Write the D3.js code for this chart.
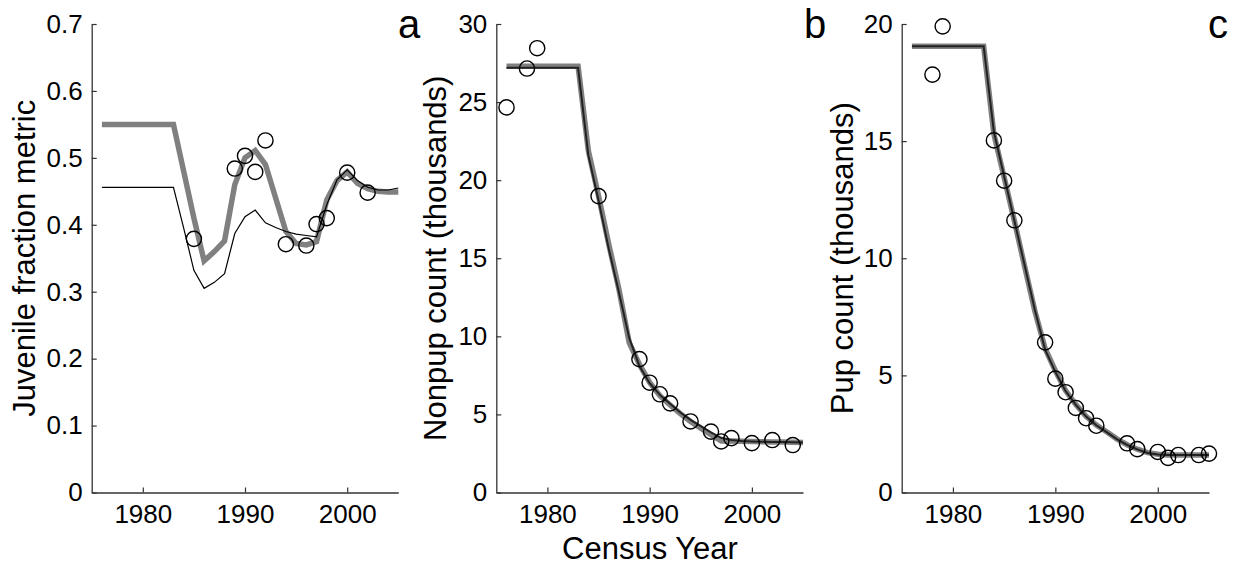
<!DOCTYPE html>
<html>
<head>
<meta charset="utf-8">
<script src="https://cdn.jsdelivr.net/npm/d3@7"></script>
<style>
  html, body { margin: 0; padding: 0; background: #fff; }
  svg { display: block; }
  text { font-family: "Liberation Sans", Arial, Helvetica, sans-serif; fill: #000; }
</style>
</head>
<body>
<svg id="chart" width="1238" height="569"></svg>
<script>
// ---------- data ----------
const modelYears = [1976,1983,1984,1985,1986,1987,1988,1989,1990,1991,1992,1993,1994,1995,1996,1997,1998,1999,2000,2001,2002,2003,2004,2005];

// panel a: juvenile fraction metric
const aGrey = [0.55,0.55,0.48,0.41,0.346,0.36,0.376,0.46,0.50,0.511,0.49,0.44,0.39,0.372,0.370,0.375,0.437,0.466,0.479,0.462,0.454,0.45,0.449,0.449];
const aThin = [0.456,0.456,0.395,0.332,0.305,0.314,0.327,0.387,0.412,0.422,0.403,0.396,0.390,0.386,0.384,0.382,0.430,0.467,0.482,0.466,0.456,0.452,0.452,0.455];
const aObsYears = [1985,1989,1990,1991,1992,1994,1996,1997,1998,2000,2002];
const aObs = [0.379,0.484,0.503,0.479,0.526,0.371,0.369,0.401,0.410,0.478,0.448];

// panel b: nonpup count (thousands)
const bGrey  = [27.3,27.3,21.9,19.0,15.9,13.0,9.6,8.2,7.05,6.2,5.6,5.05,4.55,4.12,3.7,3.3,3.3,3.28,3.26,3.25,3.24,3.23,3.22,3.2];
const bBlack = [27.2,27.2,21.6,18.7,15.6,12.8,9.9,8.1,7.0,6.25,5.68,5.12,4.65,4.25,3.85,3.5,3.36,3.3,3.27,3.25,3.24,3.23,3.22,3.2];
const bObsYears = [1976,1978,1979,1985,1989,1990,1991,1992,1994,1996,1997,1998,2000,2002,2004];
const bObs = [24.66,27.15,28.45,18.98,8.54,7.03,6.29,5.71,4.55,3.90,3.27,3.48,3.16,3.36,3.04];

// panel c: pup count (thousands)
const cGrey  = [19.05,19.05,15.3,13.45,11.6,9.65,7.75,6.15,5.2,4.35,3.76,3.25,2.88,2.59,2.29,2.04,1.85,1.70,1.63,1.60,1.60,1.60,1.60,1.60];
const cBlack = [19.05,19.05,15.4,13.5,11.6,9.7,7.8,6.1,5.15,4.33,3.74,3.24,2.87,2.58,2.28,2.03,1.84,1.69,1.62,1.60,1.60,1.60,1.60,1.60];
const cObsYears = [1978,1979,1984,1985,1986,1989,1990,1991,1992,1993,1994,1997,1998,2000,2001,2002,2004,2005];
const cObs = [17.84,19.9,15.03,13.31,11.62,6.41,4.86,4.28,3.61,3.17,2.85,2.10,1.85,1.73,1.48,1.60,1.60,1.66];

const xTicks = [1980,1990,2000];
const aTicks = [0,0.1,0.2,0.3,0.4,0.5,0.6,0.7];
const bTicks = [0,5,10,15,20,25,30];
const cTicks = [0,5,10,15,20];

// ---------- drawing ----------
const svg = d3.select("#chart");
const yTop = 24, yBot = 492.5;

function panel(opts) {
  const g = svg.append("g");
  const x = d3.scaleLinear().domain([1975, 2005]).range([opts.x0, opts.x1]);
  const y = d3.scaleLinear().domain(opts.yDomain).range([yBot, yTop]);

  const xa = g.append("g").attr("transform", `translate(0,${yBot})`)
    .call(d3.axisBottom(x).tickValues(xTicks).tickFormat(d3.format("d"))
      .tickSizeInner(-5).tickSizeOuter(0).tickPadding(12));
  const ya = g.append("g").attr("transform", `translate(${opts.x0},0)`)
    .call(d3.axisLeft(y).tickValues(opts.ticks).tickFormat(opts.fmt)
      .tickSizeInner(-5).tickSizeOuter(0).tickPadding(9));
  [xa, ya].forEach(a => {
    a.select(".domain").attr("stroke", "#333").attr("stroke-width", 1.3);
    a.selectAll(".tick line").attr("stroke", "#333").attr("stroke-width", 1.2);
    a.selectAll(".tick text").style("font-size", "26px").attr("fill", "#000");
  });

  const line = vals => d3.line().x((d, i) => x(modelYears[i])).y(d => y(d))(vals);

  opts.lines.forEach(L => {
    g.append("path").attr("d", line(L.vals)).attr("fill", "none")
      .attr("stroke", L.color).attr("stroke-width", L.width)
      .attr("stroke-linejoin", "miter").attr("stroke-linecap", "butt");
  });

  g.selectAll("circle.obs").data(opts.obs).enter().append("circle")
    .attr("class", "obs")
    .attr("cx", (d, i) => x(opts.obsYears[i])).attr("cy", d => y(d))
    .attr("r", 7.6).attr("fill", "none").attr("stroke", "#000").attr("stroke-width", 1.4);

  // y label
  g.append("text")
    .attr("transform", `translate(${opts.labX},${(yTop + yBot) / 2}) rotate(-90)`)
    .attr("text-anchor", "middle").style("font-size", "31px").text(opts.ylabel);

  // panel letter
  g.append("text").attr("x", opts.letterX).attr("y", 38)
    .style("font-size", "40px").text(opts.letter);
  return {x, y};
}

panel({
  x0: 91.7, x1: 398.3, yDomain: [0, 0.7], ticks: aTicks, fmt: d => d === 0 ? "0" : d3.format(".1f")(d),
  lines: [
    {vals: aGrey, color: "#808080", width: 5.5},
    {vals: aThin, color: "#000", width: 1.2}
  ],
  obs: aObs, obsYears: aObsYears,
  ylabel: "Juvenile fraction metric", labX: 35, letter: "a", letterX: 398
});

panel({
  x0: 496.3, x1: 803, yDomain: [0, 30], ticks: bTicks, fmt: d3.format("d"),
  lines: [
    {vals: bGrey, color: "#808080", width: 5.5},
    {vals: bBlack, color: "#222", width: 2}
  ],
  obs: bObs, obsYears: bObsYears,
  ylabel: "Nonpup count (thousands)", labX: 446, letter: "b", letterX: 804
});

panel({
  x0: 901.7, x1: 1209, yDomain: [0, 20], ticks: cTicks, fmt: d3.format("d"),
  lines: [
    {vals: cGrey, color: "#808080", width: 5.5},
    {vals: cBlack, color: "#222", width: 2}
  ],
  obs: cObs, obsYears: cObsYears,
  ylabel: "Pup count (thousands)", labX: 853, letter: "c", letterX: 1208
});

svg.append("text").attr("x", 650).attr("y", 559).attr("text-anchor", "middle")
  .style("font-size", "31px").text("Census Year");
</script>
</body>
</html>
